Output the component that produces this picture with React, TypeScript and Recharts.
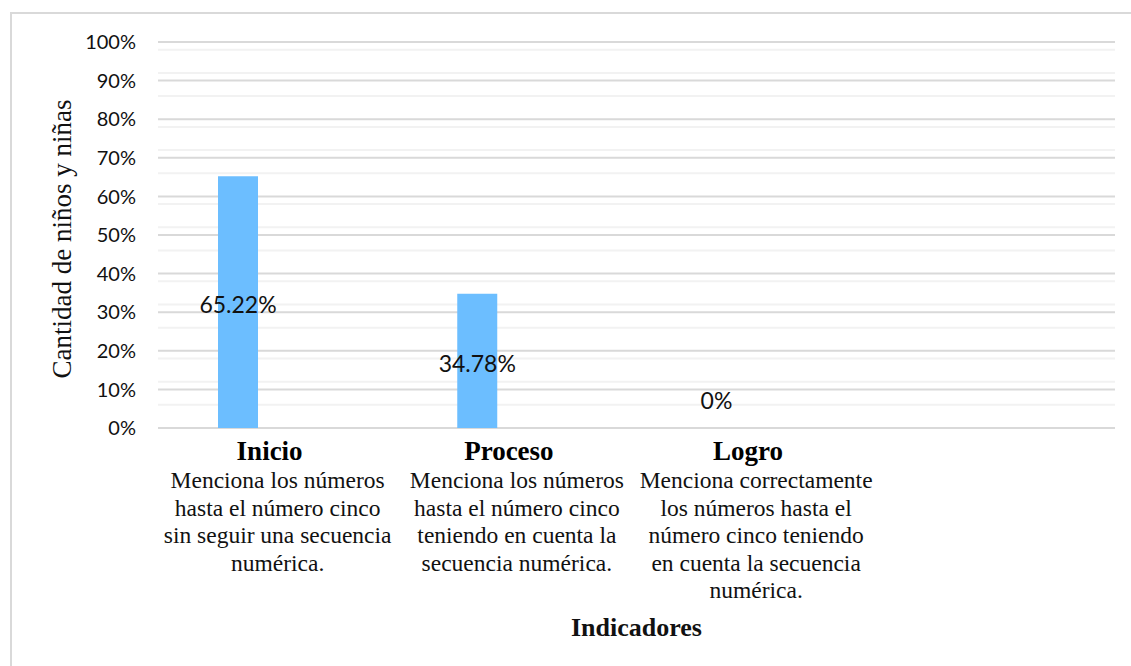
import { BarChart, Bar, XAxis, YAxis, CartesianGrid, LabelList, Label } from 'recharts';

// categorías (la cuarta va vacía, como en el gráfico original)
const categories = ['Inicio', 'Proceso', 'Logro', ''];
const descriptions = [
  ['Menciona los números', 'hasta el número cinco', 'sin seguir una secuencia', 'numérica.'],
  ['Menciona los números', 'hasta el número cinco', 'teniendo en cuenta la', 'secuencia numérica.'],
  ['Menciona correctamente', 'los números hasta el', 'número cinco teniendo', 'en cuenta la secuencia', 'numérica.'],
  [],
];

// series: sólo la primera tiene valores
const serie1 = [65.22, 34.78, 0, null];
const serie2 = [null, null, null, null];
const serie3 = [null, null, null, null];

const yTicks = [0, 10, 20, 30, 40, 50, 60, 70, 80, 90, 100];
const minorTicks = [
  2, 4, 6, 8, 12, 14, 16, 18, 22, 24, 26, 28, 32, 34, 36, 38, 42, 44, 46, 48,
  52, 54, 56, 58, 62, 64, 66, 68, 72, 74, 76, 78, 82, 84, 86, 88, 92, 94, 96, 98,
];

const data = categories.map((name, i) => ({
  name,
  s1: serie1[i],
  s2: serie2[i],
  s3: serie3[i],
}));

const SERIF = '"Liberation Serif", "Times New Roman", serif';
const SANS = 'Lato, "Open Sans", sans-serif';

function XTick(props: any) {
  const { x, y, payload } = props;
  const idx = categories.indexOf(payload.value);
  const lines = descriptions[idx] || [];
  if (!payload.value) return null;
  return (
    <g>
      <text x={x - 8} y={y + 32} textAnchor="middle" fontFamily={SERIF} fontWeight="bold" fontSize={27} fill="#000">
        {payload.value}
      </text>
      {lines.map((l, i) => (
        <text key={i} x={x} y={y + 60 + i * 27.6} textAnchor="middle" fontFamily={SERIF} fontSize={23.5} fill="#111">
          {l}
        </text>
      ))}
    </g>
  );
}

function ValueLabel(props: any) {
  const { x, y, width, height, value } = props;
  if (value === null || value === undefined) return null;
  const cy = value === 0 ? y - 28 : y + height / 2 + 2;
  return (
    <text x={x + width / 2} y={cy} textAnchor="middle" dominantBaseline="central" fontFamily={SANS} fontSize={23} fill="#111">
      {`${value}%`}
    </text>
  );
}

function YTitle(props: any) {
  const { viewBox } = props;
  const cx = 62;
  const cy = viewBox.y + viewBox.height / 2 + 4;
  return (
    <text
      x={cx}
      y={cy}
      transform={`rotate(-90, ${cx}, ${cy})`}
      textAnchor="middle"
      dominantBaseline="central"
      fontFamily={SERIF}
      fontSize={27}
      fill="#111"
    >
      Cantidad de niños y niñas
    </text>
  );
}

function XTitle(props: any) {
  const { viewBox } = props;
  return (
    <text
      x={viewBox.x + viewBox.width / 2}
      y={636}
      textAnchor="middle"
      fontFamily={SERIF}
      fontWeight="bold"
      fontSize={26}
      fill="#111"
    >
      Indicadores
    </text>
  );
}

export default function App() {
  return (
    <div style={{ position: 'absolute', left: 0, top: 0, width: 1131, height: 666, background: '#fff', overflow: 'hidden' }}>
      <div
        style={{
          position: 'absolute',
          left: 10,
          top: 12,
          width: 1200,
          height: 700,
          borderTop: '2px solid #d9d9d9',
          borderLeft: '2px solid #d9d9d9',
        }}
      />
      <div style={{ position: 'absolute', left: 0, top: 0 }}>
        <BarChart
          width={1131}
          height={666}
          data={data}
          margin={{ top: 42, right: 16, bottom: 0, left: 0 }}
          barGap={0}
          barSize={40}
        >
          <CartesianGrid vertical={false} horizontalValues={minorTicks} stroke="#f2f2f2" strokeWidth={2} />
          <CartesianGrid vertical={false} horizontalValues={yTicks} stroke="#d9d9d9" strokeWidth={2} />
          <XAxis
            dataKey="name"
            height={238}
            axisLine={false}
            tickLine={false}
            tickSize={0}
            tickMargin={0}
            interval={0}
            tick={<XTick />}
          >
            <Label content={<XTitle />} />
          </XAxis>
          <YAxis
            width={158}
            domain={[0, 100]}
            ticks={yTicks}
            tickFormatter={(v: number) => `${v}%`}
            axisLine={false}
            tickLine={false}
            tickSize={0}
            tickMargin={22}
            tick={{ fontFamily: SANS, fontSize: 20, fill: '#111' }}
          >
            <Label content={<YTitle />} />
          </YAxis>
          <Bar dataKey="s1" fill="#6cbeff" minPointSize={0.01} isAnimationActive={false}>
            <LabelList dataKey="s1" content={<ValueLabel />} />
          </Bar>
          <Bar dataKey="s2" fill="#ed7d31" isAnimationActive={false} />
          <Bar dataKey="s3" fill="#a5a5a5" isAnimationActive={false} />
        </BarChart>
      </div>
    </div>
  );
}
